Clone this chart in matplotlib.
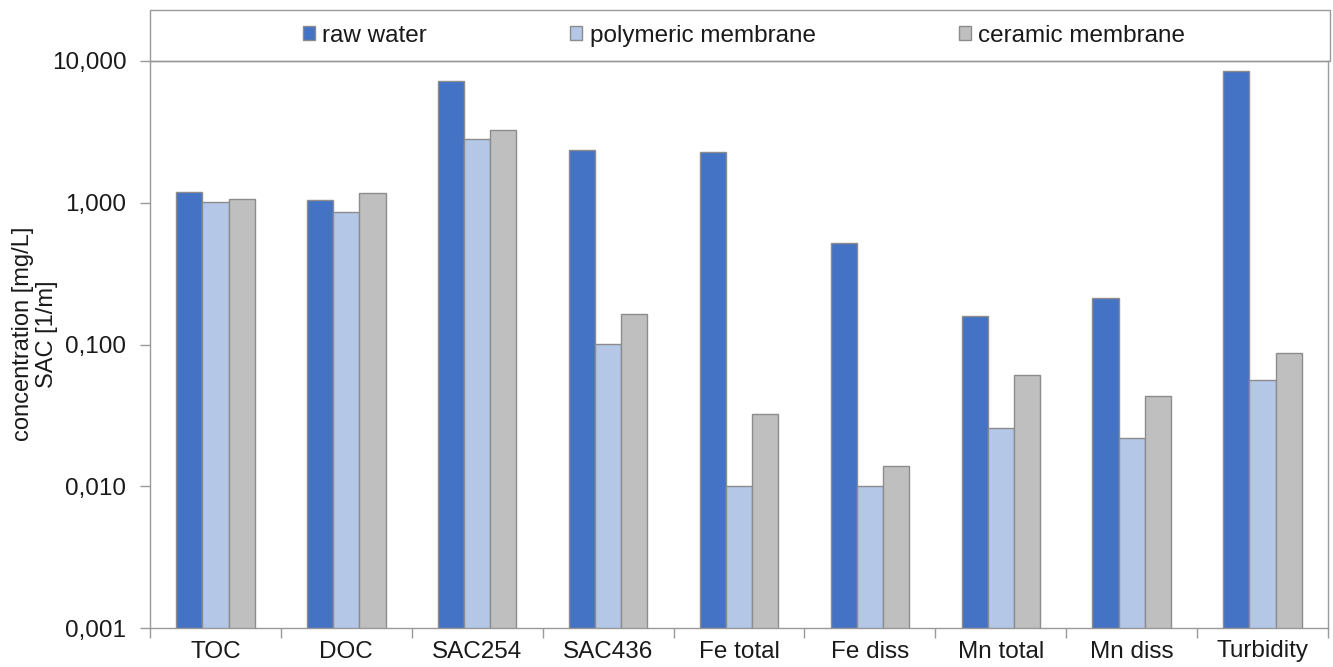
import matplotlib
matplotlib.use("Agg")
import matplotlib.pyplot as plt
import numpy as np
from matplotlib.patches import Rectangle
from matplotlib.ticker import FixedLocator, FuncFormatter, NullLocator

plt.rcParams['font.family'] = ['Liberation Sans', 'DejaVu Sans']

categories = ["TOC", "DOC", "SAC254", "SAC436", "Fe total", "Fe diss", "Mn total", "Mn diss", "Turbidity"]
series_names = ["raw water", "polymeric membrane", "ceramic membrane"]
raw_water = [1.20, 1.05, 7.23, 2.36, 2.29, 0.523, 0.160, 0.214, 8.5]
polymeric = [1.02, 0.855, 2.82, 0.1016, 0.010, 0.010, 0.0256, 0.0218, 0.0558]
ceramic = [1.07, 1.18, 3.27, 0.165, 0.0321, 0.0138, 0.0605, 0.043, 0.0864]
y_ticks = [0.001, 0.01, 0.1, 1, 10]

colors = ["#4472C4", "#B4C7E7", "#BFBFBF"]
edge = "#8C8C8C"
base = 0.001

fig = plt.figure(figsize=(13.33, 6.67), dpi=100)
ax = fig.add_axes([150/1333, 1-628/667, (1328-150)/1333, (628-61)/667])

x = np.arange(len(categories))
w = 0.2
for i, (vals, c, name) in enumerate(zip([raw_water, polymeric, ceramic], colors, series_names)):
    heights = np.array(vals) - base
    ax.bar(x + (i-1)*w, heights, width=w, bottom=base, color=c, edgecolor=edge, linewidth=1.0, label=name, zorder=3)

ax.set_yscale('log')
ax.set_ylim(0.001, 10)
ax.set_xlim(-0.5, len(categories)-0.5)
ax.yaxis.set_major_locator(FixedLocator(y_ticks))
ax.yaxis.set_minor_locator(NullLocator())
ax.yaxis.set_major_formatter(FuncFormatter(lambda v, p: f"{v:.3f}".replace('.', ',')))
ax.tick_params(axis='y', length=7, width=1, color="#999999", labelsize=17.5, pad=10, labelcolor="#1a1a1a")

ax.set_xticks(x)
ax.set_xticklabels(categories, fontsize=17.5, color="#1a1a1a")
ax.tick_params(axis='x', length=0, pad=9)
ax.set_xticks(np.arange(len(categories)+1) - 0.5, minor=True)
ax.tick_params(axis='x', which='minor', length=7, width=1, color="#999999")

for s in ax.spines.values():
    s.set_color("#999999")
    s.set_linewidth(1)

ax.set_ylabel("concentration [mg/L]\nSAC [1/m]", fontsize=17, color="#1a1a1a", linespacing=1.1)
ax.yaxis.set_label_coords(-0.078, 0.518)

# legend box above plot
fig.patches.append(Rectangle((150/1333, 1-61/667), (1330-150)/1333, 51/667,
                             transform=fig.transFigure, fill=False, edgecolor="#999999", linewidth=1))
handles, labels = ax.get_legend_handles_labels()
leg = fig.legend(handles, labels, loc='center', bbox_to_anchor=(744/1333, 1-36/667), ncol=3,
                 frameon=False, fontsize=17.5, handlelength=0.5, handleheight=0.5, handletextpad=0.3,
                 columnspacing=5.9, labelcolor="#1a1a1a")

fig.savefig("out.png", dpi=100)
